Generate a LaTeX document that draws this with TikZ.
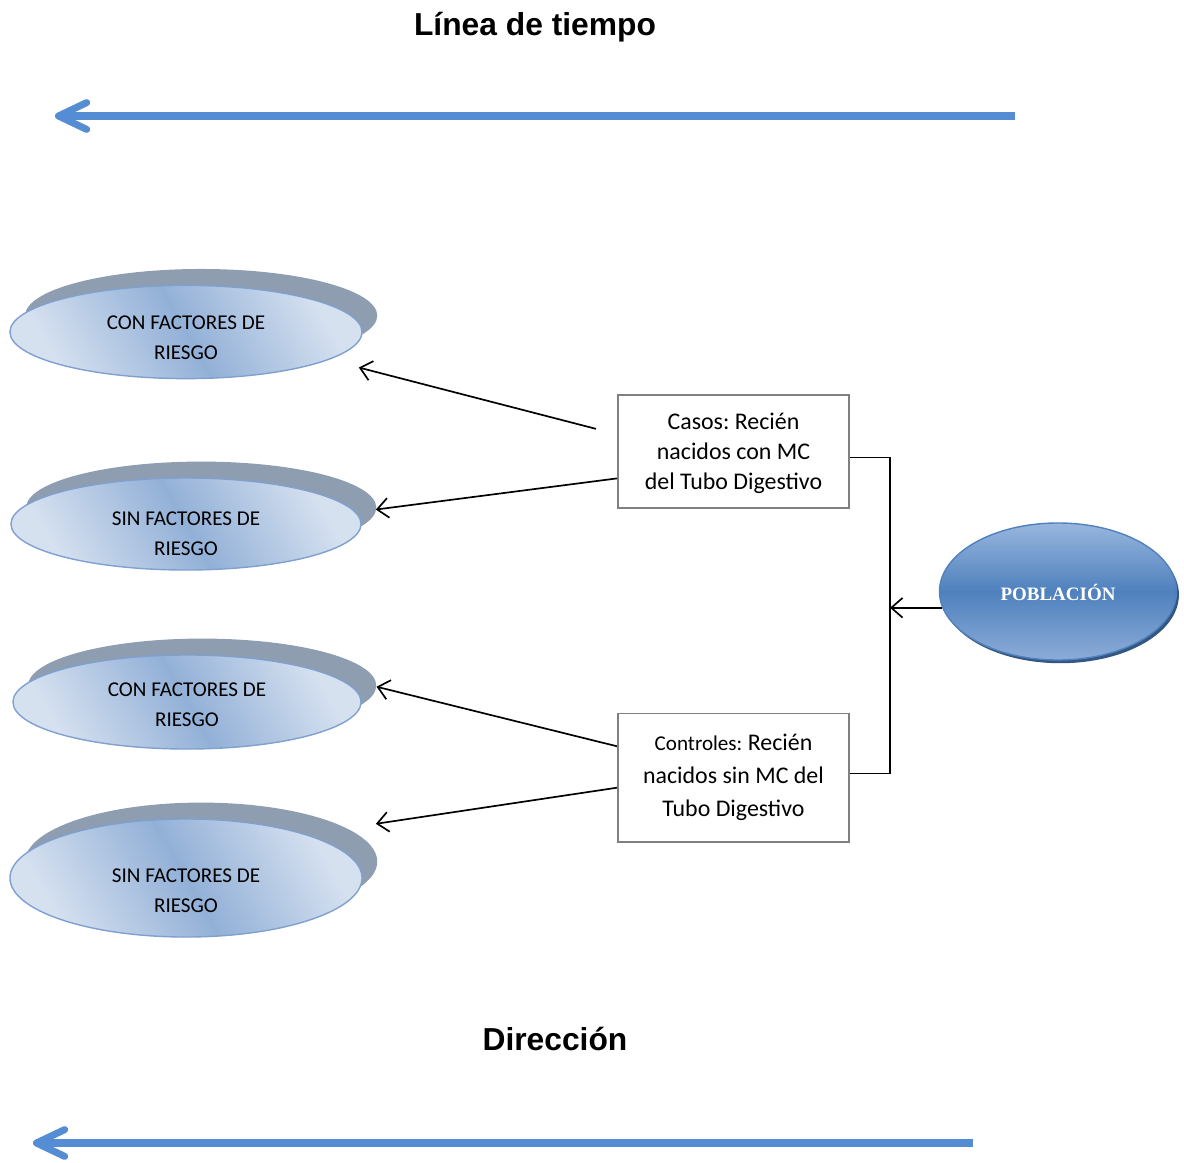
\documentclass[tikz,border=0pt]{standalone}
\usepackage{fontspec}
\setmainfont{Carlito}
\newfontfamily\arialFont{Liberation Sans}
\newfontfamily\cambriaFont{Liberation Serif}
\frenchspacing
\usepackage{tikz}
\usetikzlibrary{arrows.meta, calc, shapes.geometric, shadows}
\definecolor{timeBlue}{RGB}{84,141,212}
\definecolor{ovalLight}{RGB}{214,225,240}
\definecolor{ovalMid}{RGB}{146,176,215}
\definecolor{ovalEdge}{RGB}{128,160,208}
\definecolor{ovalShadow}{RGB}{142,157,176}
\definecolor{popTop}{RGB}{152,182,222}
\definecolor{popMid}{RGB}{79,129,189}
\definecolor{popBottom}{RGB}{140,172,216}
\definecolor{popShadow}{RGB}{52,86,130}
\definecolor{boxGray}{RGB}{128,128,128}
\newcommand{\topPad}[1]{\rule{0pt}{#1}}
\tikzset{
  riskOval/.style={ellipse, draw=ovalEdge, line width=1pt, inner sep=0pt,
    left color=ovalLight, right color=ovalLight, middle color=ovalMid, shading angle=120,
    general shadow={fill=ovalShadow, shadow xshift=0.38cm, shadow yshift=0.41cm},
    align=center, font=\fontsize{15}{21.3}\selectfont},
  groupBox/.style={draw=boxGray, line width=1.4pt, fill=white, inner sep=0pt,
    minimum width=5.775cm, align=center},
  conn/.style={line width=1.2pt, -{Straight Barb[length=8pt, width=14pt]}},
  timeArrow/.style={timeBlue, line width=5pt, -{Straight Barb[length=20pt, width=19pt, round]}},
  heading/.style={font=\arialFont\bfseries\fontsize{22.6}{27}\selectfont}
}
\begin{document}
\begin{tikzpicture}[x=0.025cm, y=-0.025cm]
  \useasboundingbox (0,0) rectangle (1184,1163);

  \node[heading] (titulo) at (535,27) {Línea de tiempo};
  \coordinate (tiempoIni) at (1015,116);
  \coordinate (tiempoFin) at (55,116);
  \draw[timeArrow] (tiempoIni) -- (tiempoFin);

  \node[riskOval, minimum width=8.8cm, minimum height=2.33cm] (conA) at (186,332) {\topPad{18.3pt}CON FACTORES DE\\RIESGO};
  \node[riskOval, minimum width=8.75cm, minimum height=2.3cm] (sinA) at (186,524) {\topPad{23.9pt}SIN FACTORES DE\\RIESGO};
  \node[riskOval, minimum width=8.7cm, minimum height=2.35cm] (conB) at (187,702) {\topPad{14pt}CON FACTORES DE\\RIESGO};
  \node[riskOval, minimum width=8.8cm, minimum height=2.95cm] (sinB) at (186,878) {\topPad{28.2pt}SIN FACTORES DE\\RIESGO};

  \node[groupBox, minimum height=2.825cm, font=\fontsize{17}{21.3}\selectfont] (casos) at (733.5,451.5)
    {\topPad{14.5pt}Casos: Recién\\nacidos con MC\\del Tubo Digestivo};
  \node[groupBox, minimum height=3.2cm, font=\fontsize{17}{23.5}\selectfont] (controles) at (733.5,777.5)
    {{\fontsize{15}{23.5}\selectfont Controles:} Recién\\nacidos sin MC del\\Tubo Digestivo};

  \node[ellipse, draw=popMid, line width=1pt, inner sep=0pt, minimum width=5.925cm, minimum height=3.425cm,
    top color=popTop, bottom color=popBottom, middle color=popMid,
    general shadow={fill=popShadow, shadow xshift=0.06cm, shadow yshift=-0.08cm},
    text=white, font=\cambriaFont\bfseries\fontsize{13.5}{16}\selectfont] (poblacion) at (1058,591.5) {\topPad{13pt}POBLACIÓN};

  \draw[conn, shorten >=0.77cm] ([xshift=-0.525cm]casos.169) -- (conA.-11.6);
  \draw[conn, shorten >=0.5cm] (casos.193.4) -- (sinA.4.7);
  \draw[conn, shorten >=1.1cm] (controles.165.7) -- (conB.10.6);
  \draw[conn, shorten >=1.76cm] (controles.185.7) -- (sinB.20.6);

  \draw[line width=1.2pt] (casos.-3) -- ++(40,0) coordinate (codo) |- (controles.2);
  \draw[conn] (poblacion.188) -- (poblacion.188 -| codo);

  \node[heading] (direccion) at (555,1039) {Dirección};
  \coordinate (dirIni) at (973,1143);
  \coordinate (dirFin) at (33,1143);
  \draw[timeArrow] (dirIni) -- (dirFin);
\end{tikzpicture}
\end{document}
